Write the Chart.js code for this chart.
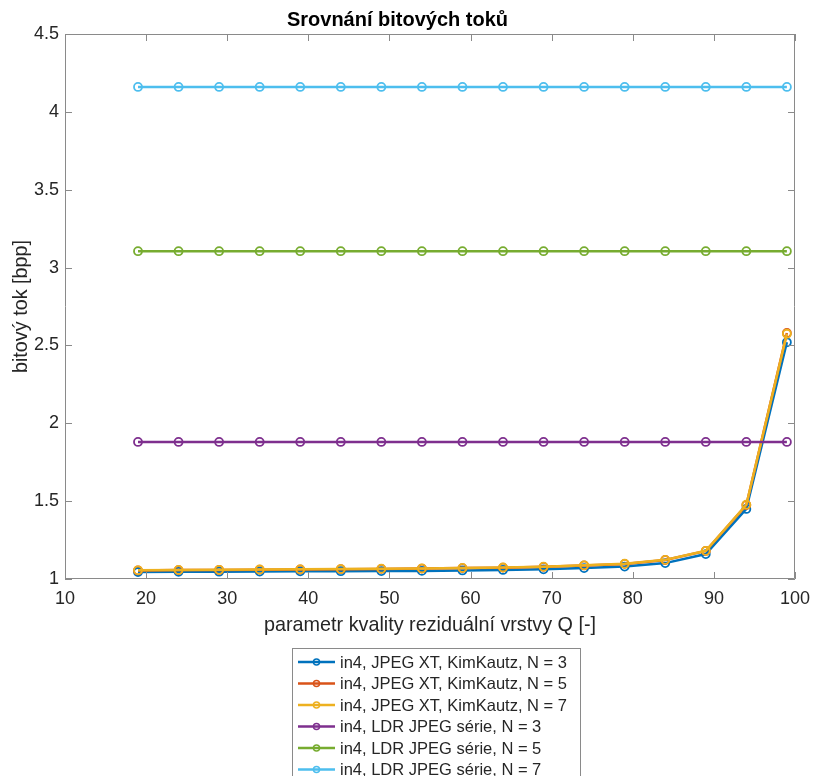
<!DOCTYPE html>
<html>
<head>
<meta charset="utf-8">
<script src="https://cdn.jsdelivr.net/npm/chart.js@4.4.1/dist/chart.umd.min.js"></script>
<style>
    body { margin: 0; background: #fff; }
    #wrap { width: 824px; height: 776px; position: relative; }
</style>
</head>
<body>
<div id="wrap"><canvas id="chart" width="824" height="776"></canvas></div>
<script>
const qValues = [19, 24, 29, 34, 39, 44, 49, 54, 59, 64, 69, 74, 79, 84, 89, 94, 99];
const xtKimKautz3 = [1.045, 1.046, 1.047, 1.048, 1.049, 1.050, 1.051, 1.052, 1.055, 1.058, 1.062, 1.070, 1.080, 1.102, 1.160, 1.450, 2.520];
const xtKimKautz5 = [1.055, 1.057, 1.058, 1.060, 1.061, 1.063, 1.065, 1.067, 1.070, 1.073, 1.078, 1.087, 1.097, 1.122, 1.180, 1.475, 2.580];
const xtKimKautz7 = [1.056, 1.058, 1.059, 1.061, 1.062, 1.064, 1.066, 1.068, 1.071, 1.074, 1.079, 1.088, 1.098, 1.123, 1.181, 1.477, 2.575];
const ldrSerie3 = [1.88, 1.88, 1.88, 1.88, 1.88, 1.88, 1.88, 1.88, 1.88, 1.88, 1.88, 1.88, 1.88, 1.88, 1.88, 1.88, 1.88];
const ldrSerie5 = [3.105, 3.105, 3.105, 3.105, 3.105, 3.105, 3.105, 3.105, 3.105, 3.105, 3.105, 3.105, 3.105, 3.105, 3.105, 3.105, 3.105];
const ldrSerie7 = [4.16, 4.16, 4.16, 4.16, 4.16, 4.16, 4.16, 4.16, 4.16, 4.16, 4.16, 4.16, 4.16, 4.16, 4.16, 4.16, 4.16];

const seriesLabels = [
    'in4, JPEG XT, KimKautz, N = 3',
    'in4, JPEG XT, KimKautz, N = 5',
    'in4, JPEG XT, KimKautz, N = 7',
    'in4, LDR JPEG série, N = 3',
    'in4, LDR JPEG série, N = 5',
    'in4, LDR JPEG série, N = 7'
];
const seriesData = [xtKimKautz3, xtKimKautz5, xtKimKautz7, ldrSerie3, ldrSerie5, ldrSerie7];
const colors = ['#0072BD', '#D95319', '#EDB120', '#7E2F8E', '#77AC30', '#4DBEEE'];

const FONT = '"Liberation Sans", Arial, Helvetica, sans-serif';
const TEXT = '#262626';

// MATLAB-like box with inward ticks on all four sides
const boxPlugin = {
    id: 'matlabBox',
    afterDatasetsDraw(chart) {
        const { ctx, chartArea: a, scales } = chart;
        const len = 7;
        ctx.save();
        ctx.strokeStyle = '#8a8a8a';
        ctx.lineWidth = 1;
        ctx.beginPath();
        ctx.rect(a.left + 0.5, a.top + 0.5, a.right - a.left - 1, a.bottom - a.top - 1);
        scales.x.ticks.forEach(t => {
            const px = Math.round(scales.x.getPixelForValue(t.value)) + 0.5;
            ctx.moveTo(px, a.bottom); ctx.lineTo(px, a.bottom - len);
            ctx.moveTo(px, a.top); ctx.lineTo(px, a.top + len);
        });
        scales.y.ticks.forEach(t => {
            const py = Math.round(scales.y.getPixelForValue(t.value)) + 0.5;
            ctx.moveTo(a.left, py); ctx.lineTo(a.left + len, py);
            ctx.moveTo(a.right, py); ctx.lineTo(a.right - len, py);
        });
        ctx.stroke();
        ctx.restore();
    }
};

// legend drawn in a box under the axis label
const legendPlugin = {
    id: 'boxLegend',
    afterDraw(chart) {
        const ctx = chart.ctx;
        const left = 292, top = 648, right = 580, bottom = 790;
        const rowH = 21.5, firstRow = 662;
        ctx.save();
        ctx.fillStyle = '#fff';
        ctx.fillRect(left, top, right - left, bottom - top);
        ctx.strokeStyle = '#8a8a8a';
        ctx.lineWidth = 1;
        ctx.strokeRect(left + 0.5, top + 0.5, right - left, bottom - top);
        ctx.font = '16.5px ' + FONT;
        ctx.textBaseline = 'middle';
        chart.data.datasets.forEach((ds, i) => {
            const y = firstRow + i * rowH;
            ctx.strokeStyle = ds.borderColor;
            ctx.lineWidth = 2.5;
            ctx.beginPath();
            ctx.moveTo(298, y); ctx.lineTo(335, y);
            ctx.stroke();
            ctx.lineWidth = 1.5;
            ctx.beginPath();
            ctx.arc(316.5, y, 3, 0, Math.PI * 2);
            ctx.stroke();
            ctx.fillStyle = TEXT;
            ctx.fillText(ds.label, 340, y + 1);
        });
        ctx.restore();
    }
};

const datasets = seriesData.map((vals, i) => ({
    label: seriesLabels[i],
    data: qValues.map((q, j) => ({ x: q, y: vals[j] })),
    borderColor: colors[i],
    backgroundColor: 'rgba(0,0,0,0)',
    borderWidth: 2.5,
    pointRadius: 4,
    pointBorderWidth: 1.8,
    pointBackgroundColor: 'rgba(0,0,0,0)',
    pointBorderColor: colors[i],
    tension: 0,
    order: seriesData.length - i
}));

new Chart(document.getElementById('chart'), {
    type: 'line',
    data: { datasets: datasets },
    plugins: [boxPlugin, legendPlugin],
    options: {
        responsive: false,
        animation: false,
        layout: { padding: { left: 0, right: 29, top: 0, bottom: 132 } },
        plugins: {
            legend: { display: false },
            tooltip: { enabled: false },
            title: {
                display: true,
                text: 'Srovnání bitových toků',
                color: '#000',
                font: { family: FONT, size: 20, weight: 'bold' },
                padding: { top: 8, bottom: 2 }
            }
        },
        scales: {
            x: {
                type: 'linear',
                min: 10,
                max: 100,
                ticks: {
                    stepSize: 10,
                    color: TEXT,
                    font: { family: FONT, size: 18 },
                    padding: 9,
                    maxRotation: 0
                },
                grid: { display: false, drawTicks: false },
                border: { display: false },
                title: {
                    display: true,
                    text: 'parametr kvality reziduální vrstvy Q [-]',
                    color: TEXT,
                    font: { family: FONT, size: 19.8 },
                    padding: { top: 2, bottom: 7 }
                },
                afterFit(scale) { scale.height = 65; }
            },
            y: {
                min: 1,
                max: 4.5,
                ticks: {
                    stepSize: 0.5,
                    color: TEXT,
                    font: { family: FONT, size: 18 },
                    padding: 6,
                    callback: v => String(v)
                },
                grid: { display: false, drawTicks: false },
                border: { display: false },
                title: {
                    display: true,
                    text: 'bitový tok [bpp]',
                    color: TEXT,
                    font: { family: FONT, size: 19.8 },
                    padding: { top: 10, bottom: 4 }
                },
                afterFit(scale) { scale.width = 65; }
            }
        }
    }
});
</script>
</body>
</html>
